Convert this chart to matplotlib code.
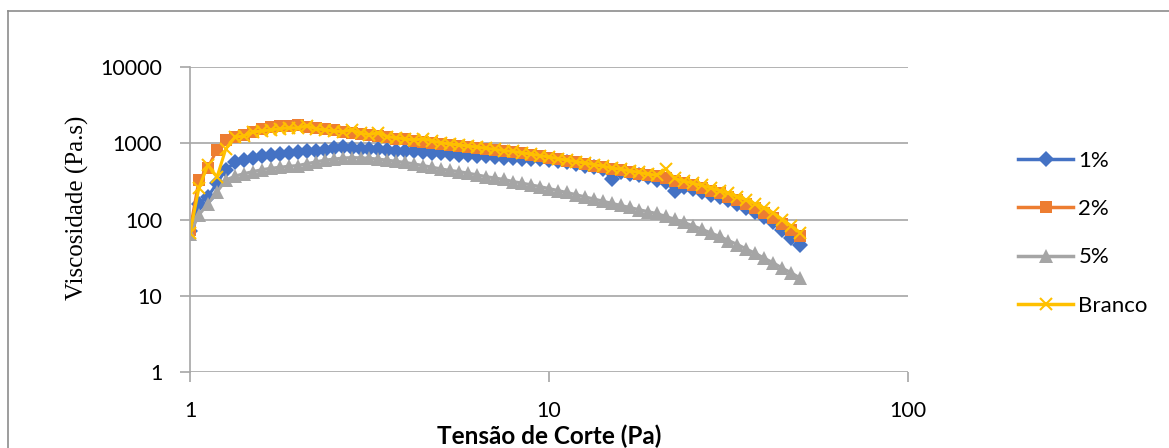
import matplotlib
matplotlib.use("Agg")
import matplotlib.pyplot as plt
from matplotlib.lines import Line2D

# tensao de corte (Pa)
tensao = [1.000, 1.059, 1.122, 1.189, 1.259, 1.334, 1.413, 1.496, 1.585, 1.679,
          1.778, 1.884, 1.995, 2.113, 2.239, 2.371, 2.512, 2.661, 2.818, 2.985,
          3.162, 3.350, 3.548, 3.758, 3.981, 4.217, 4.467, 4.732, 5.012, 5.309,
          5.623, 5.957, 6.310, 6.683, 7.079, 7.499, 7.943, 8.414, 8.913, 9.441,
          10.00, 10.59, 11.22, 11.89, 12.59, 13.34, 14.13, 14.96, 15.85, 16.79,
          17.78, 18.84, 19.95, 21.13, 22.39, 23.71, 25.12, 26.61, 28.18, 29.85,
          31.62, 33.50, 35.48, 37.58, 39.81, 42.17, 44.67, 47.32, 50.12]

# viscosidade (Pa.s)
v_1 = [70, 160, 200, 300, 450, 560, 600, 640, 680, 700,
       720, 740, 760, 780, 800, 820, 860, 890, 870, 850,
       840, 830, 815, 800, 790, 780, 765, 750, 740, 725,
       710, 700, 690, 675, 660, 650, 640, 630, 620, 615,
       610, 585, 560, 535, 510, 485, 460, 340, 420, 400,
       380, 360, 330, 310, 240, 270, 250, 230, 210, 195,
       178, 160, 142, 125, 108, 92, 72, 58, 47]

v_2 = [72, 330, 480, 820, 1100, 1220, 1300, 1420, 1550, 1620,
       1680, 1700, 1720, 1650, 1600, 1560, 1480, 1420, 1380, 1330,
       1280, 1240, 1200, 1150, 1120, 1080, 1050, 1020, 990, 960,
       930, 900, 870, 850, 820, 790, 760, 740, 710, 680,
       650, 620, 590, 565, 540, 510, 485, 460, 440, 420,
       400, 385, 370, 345, 320, 300, 280, 260, 240, 220,
       200, 180, 160, 140, 120, 105, 88, 72, 60]

v_5 = [65, 115, 160, 230, 330, 370, 400, 425, 450, 470,
       485, 500, 510, 540, 570, 600, 620, 640, 650, 645,
       635, 620, 600, 580, 560, 535, 510, 485, 460, 440,
       425, 405, 385, 365, 350, 335, 315, 300, 285, 270,
       255, 240, 226, 212, 198, 186, 174, 163, 153, 144,
       135, 127, 120, 110, 101, 92, 83, 75, 67, 60,
       53, 47, 41, 36, 31, 27, 23, 20, 17]

v_branco = [66, 260, 520, 360, 850, 1200, 1250, 1400, 1450, 1500,
            1550, 1600, 1580, 1700, 1550, 1500, 1450, 1420, 1500, 1350,
            1300, 1380, 1220, 1180, 1140, 1100, 1150, 1070, 1010, 980,
            950, 920, 890, 860, 830, 800, 780, 750, 720, 690,
            660, 630, 600, 575, 550, 525, 500, 475, 455, 435,
            415, 395, 380, 460, 345, 320, 300, 280, 260, 240,
            220, 200, 180, 160, 140, 122, 100, 82, 67]

series = [("1%", v_1, "#4472C4", "D", 8.5),
          ("2%", v_2, "#ED7D31", "s", 9),
          ("5%", v_5, "#A5A5A5", "^", 9.5),
          ("Branco", v_branco, "#FFC000", "x", 9)]

W, H = 1169, 448
fig = plt.figure(figsize=(W / 100, H / 100), dpi=100)
ax = fig.add_axes([190 / W, 1 - 372 / H, (908 - 190) / W, (372 - 67) / H])

for nome, v, cor, mk, ms in series:
    ax.plot(tensao, v, color=cor, lw=2.2, marker=mk, ms=ms,
            mew=1.5 if mk == "x" else 0, mec=cor, mfc=cor, label=nome)

ax.set_xscale("log")
ax.set_yscale("log")
ax.set_xlim(1, 100)
ax.set_ylim(1, 10000)
ax.set_xticks([1, 10, 100])
ax.set_xticklabels(["1", "10", "100"])
ax.set_yticks([1, 10, 100, 1000, 10000])
ax.set_yticklabels(["1", "10", "100", "1000", "10000"])
ax.minorticks_off()
ax.grid(axis="y", color="#A6A6A6", lw=1.2)
ax.set_axisbelow(True)
for s in ["top", "right", "bottom"]:
    ax.spines[s].set_visible(False)
ax.spines["left"].set_color("#A6A6A6")
ax.spines["left"].set_linewidth(1.2)
ax.tick_params(axis="y", length=7, width=1.2, color="#A6A6A6", pad=13,
               labelsize=15.5, labelfontfamily="Lato")
ax.tick_params(axis="x", length=7, width=1.2, color="#A6A6A6", pad=14,
               labelsize=15.5, labelfontfamily="Lato")

fig.text(77 / W, 1 - 208 / H, "Viscosidade (Pa.s)", rotation=90,
         ha="center", va="center", fontsize=18, family="Liberation Serif")
fig.text(549 / W, 1 - 436 / H, "Tensão de Corte (Pa)", ha="center",
         va="center", fontsize=17.5, fontweight="bold", family="Lato")

handles = [Line2D([], [], color=c, lw=2.5, marker=m, ms=ms,
                  mew=1.5 if m == "x" else 0, mec=c, mfc=c)
           for _, _, c, m, ms in series]
leg = fig.legend(handles, [s[0] for s in series], loc="upper left",
                 bbox_to_anchor=(1009 / W, 1 - 142 / H), frameon=False,
                 borderaxespad=0, prop={"family": "Lato", "size": 16},
                 handlelength=2.5, handletextpad=0.22, labelspacing=1.27)

# borda da area do grafico
fig.add_artist(Line2D([8 / W, 1], [1 - 11 / H, 1 - 11 / H], color="#8C8C8C", lw=1.2))
fig.add_artist(Line2D([8 / W, 8 / W], [0, 1 - 11 / H], color="#8C8C8C", lw=1.2))

fig.savefig("out.png", dpi=100)
